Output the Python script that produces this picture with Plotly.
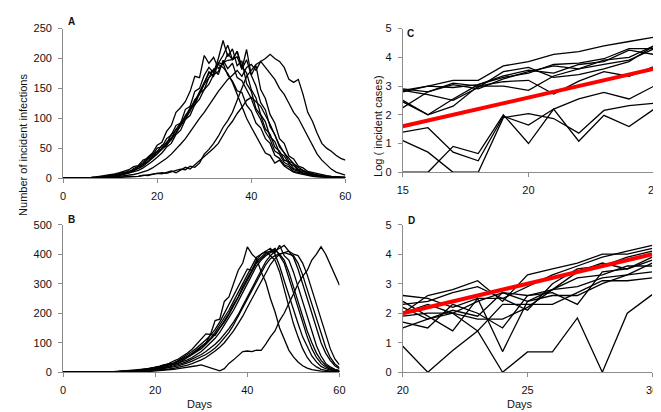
import plotly.graph_objects as go

# ---------------- DATA ----------------
days_ab = list(range(0, 61))

# Panel A: incident infections per day (10 simulated epidemics)
A1 = [0,0,0,0,1,0,1,1,2,3, 4,6,5,8,12,11,20,26,35,42, 55,60,78,88,110,118,128,145,170,168,
      205,192,202,183,192,172,162,146,143,122, 112,92,84,66,58,38,33,22,19,11, 9,7,5,4,3,2,2,1,1,0,0]
A2 = [0,0,0,0,0,1,1,2,2,3, 5,4,8,10,9,16,20,23,33,38, 50,52,66,72,88,92,115,120,145,150,
      172,185,176,200,230,203,216,188,196,158, 145,116,105,82,73,52,45,30,27,16, 13,8,7,5,4,3,2,2,1,1,0]
A3 = [0,0,0,0,1,1,1,2,3,4, 5,7,9,12,14,19,21,30,33,40, 44,55,58,73,80,93,102,118,127,143,
      158,178,170,192,205,222,198,212,186,176, 148,134,106,94,69,61,42,37,24,21, 13,11,7,6,4,3,2,2,1,1,1]
A4 = [0,0,0,0,0,0,1,1,2,2, 3,4,6,8,10,14,16,23,27,36, 41,50,54,67,76,90,98,116,122,142,
      148,168,175,193,190,208,198,212,182,198, 172,154,126,114,86,73,52,42,28,24, 15,13,8,7,5,4,3,2,2,1,1]
A5 = [0,0,0,0,0,0,0,1,1,2, 2,3,4,6,8,10,13,17,22,28, 35,42,52,58,73,80,98,105,123,132,
      148,157,173,178,193,197,198,203,182,215, 172,188,148,133,106,92,66,58,37,32, 20,17,11,9,7,5,4,3,2,2,1]
A6 = [0,0,0,0,0,1,1,1,2,2, 3,5,6,8,11,13,19,23,31,35, 45,49,60,66,82,90,105,115,131,140,
      157,168,182,173,197,183,192,168,163,147, 133,112,98,77,65,45,40,26,22,14, 11,8,6,4,3,2,2,1,1,0,0]
A7 = [0,0,0,0,0,0,1,1,1,2, 3,4,5,7,9,12,16,20,26,33, 40,48,55,64,75,88,100,112,128,145,
      160,175,180,190,185,175,160,140,120,100, 85,70,55,42,38,25,30,20,15,10, 8,6,4,3,2,2,1,1,0,0,0]
A8 = [0,0,0,0,0,0,0,0,1,1, 1,2,3,3,4,6,8,10,13,17, 22,27,33,40,48,57,66,78,90,100,
      110,122,135,145,155,165,172,180,170,185, 190,180,195,185,175,165,150,140,125,110, 100,85,70,55,40,30,22,15,10,7,5]
A9 = [0,0,0,0,0,0,0,0,0,0, 1,1,1,2,2,3,3,5,4,6, 8,7,10,12,9,14,18,15,22,28,
      35,42,50,58,72,85,95,108,118,130, 135,128,120,105,90,72,55,42,32,24, 18,13,10,7,5,4,3,2,2,1,1]
A10 = [0,0,0,0,0,0,0,0,0,0, 1,1,1,2,2,3,3,4,5,6, 7,9,8,11,13,15,14,20,18,25,
       40,48,58,70,85,96,110,130,150,170, 180,190,195,200,207,200,195,185,165,160, 165,140,110,95,75,58,50,45,38,33,30]
series_A = [A1, A2, A3, A4, A5, A6, A7, A8, A9, A10]

# Panel B
B1 = [0,0,0,0,0,0,0,1,1,1, 2,2,3,3,4,5,6,8,10,13, 16,20,25,30,38,45,55,65,78,95,
      110,130,128,175,180,240,255,300,345,370, 425,400,385,340,305,250,205,150,115,75, 52,35,22,14,9,6,4,3,2,1,1]
B2 = [0,0,0,0,0,0,0,0,1,1, 1,2,2,3,3,4,5,7,9,11, 14,17,21,25,30,36,44,52,62,72,
      85,100,115,135,160,185,210,240,270,300, 330,360,390,400,410,420,400,360,310,260, 210,165,120,85,55,35,20,12,7,4,2]
B3 = [0,0,0,0,0,0,0,0,0,1, 1,1,2,2,3,3,4,5,7,9, 11,14,17,21,26,30,35,42,50,60,
      70,85,100,115,135,160,185,210,240,270, 300,330,360,380,395,405,415,400,380,340, 290,240,190,140,100,65,40,24,14,8,4]
B4 = [0,0,0,0,0,0,0,0,1,1, 1,2,2,3,4,5,6,7,9,12, 15,18,22,28,26,30,40,48,58,68,
      80,95,110,128,150,170,195,225,250,285, 310,345,370,385,400,410,405,430,395,380, 340,290,240,185,135,90,55,30,18,10,6]
B5 = [0,0,0,0,0,0,0,1,1,1, 2,2,3,3,4,5,6,8,10,12, 15,18,22,26,32,38,45,54,64,75,
      88,100,128,125,150,175,200,230,255,290, 320,345,375,390,405,410,420,395,370,320, 270,215,165,120,80,50,30,18,10,6,3]
B6 = [0,0,0,0,0,0,0,1,1,1, 2,2,3,4,5,6,7,9,11,14, 17,21,26,24,30,40,48,58,70,82,
      95,110,125,145,170,200,230,260,290,320, 350,345,380,400,410,395,380,340,280,220, 165,120,80,50,30,18,10,6,3,2,1]
B7 = [0,0,0,0,0,0,0,0,0,0, 1,1,1,2,2,3,3,4,5,6, 8,10,12,15,18,22,26,32,38,45,
      52,60,70,82,98,115,135,160,190,220, 250,280,310,340,365,385,395,400,405,400, 395,370,330,280,230,180,130,85,50,28,15]
B8 = [0,0,0,0,0,0,0,0,0,1, 1,1,2,2,3,3,4,5,6,8, 10,12,15,18,22,26,31,37,44,52,
      60,70,82,95,110,128,148,170,195,225, 255,290,320,350,375,395,410,420,430,410, 390,350,300,250,195,145,100,65,40,22,12]
B9 = [0,0,0,0,0,0,0,0,0,0, 0,1,1,1,2,2,2,3,4,5, 6,7,9,11,13,16,20,24,29,35,
      42,50,60,72,85,100,120,140,165,190, 220,250,280,310,340,365,385,400,405,410, 400,395,370,330,280,230,180,130,80,45,25]
B10 = [0,0,0,0,0,0,0,0,0,0, 0,0,0,1,1,1,1,2,2,3, 4,5,6,8,10,12,14,17,20,22,
       25,20,15,8,5,12,30,42,55,70, 72,70,75,74,95,120,140,175,200,230, 265,300,325,345,380,400,425,400,365,330,295]
series_B = [B1, B2, B3, B4, B5, B6, B7, B8, B9, B10]

# Panel C: log(incident cases), days 15-25
days_c = [15, 16, 17, 18, 19, 20, 21, 22, 23, 24, 25]
C1 = [2.8, 3.0, 3.2, 3.2, 3.7, 3.85, 4.1, 4.2, 4.4, 4.55, 4.7]
C2 = [2.85, 3.0, 2.95, 3.05, 3.3, 3.45, 3.75, 3.8, 3.95, 4.3, 4.3]
C3 = [2.5, 2.0, 2.55, 3.05, 3.35, 3.55, 3.45, 3.75, 3.85, 4.25, 4.1]
C4 = [2.9, 2.8, 3.1, 3.0, 3.0, 2.85, 3.35, 3.6, 3.9, 4.0, 4.4]
C5 = [2.85, 2.7, 2.5, 2.95, 3.5, 3.65, 3.3, 3.4, 3.6, 3.85, 4.4]
C6 = [2.25, 2.8, 3.05, 2.9, 3.25, 3.5, 3.7, 3.6, 3.75, 3.9, 4.3]
C7 = [2.45, 2.0, 2.3, 3.0, 3.15, 3.2, 2.72, 3.17, 3.5, 3.34, 3.68]
C8 = [1.4, 1.55, 0.7, 0.4, 1.95, 1.64, 2.2, 2.55, 2.78, 2.55, 3.0]
C9 = [1.1, 0.7, 0.0, 0.0, 1.9, 2.04, 1.87, 1.36, 2.15, 2.32, 2.4]
C10 = [0.0, 0.0, 0.9, 0.65, 2.0, 1.0, 2.2, 1.08, 1.98, 1.59, 2.2]
series_C = [C1, C2, C3, C4, C5, C6, C7, C8, C9, C10]
fit_C_x = [15, 25]
fit_C_y = [1.6, 3.6]

# Panel D: log(incident cases), days 20-30
days_d = [20, 21, 22, 23, 24, 25, 26, 27, 28, 29, 30]
D1 = [2.3, 2.4, 2.7, 2.9, 2.5, 2.9, 3.3, 3.6, 3.9, 4.1, 4.3]
D2 = [2.0, 2.6, 2.8, 3.1, 2.4, 3.3, 3.5, 3.7, 4.0, 4.0, 4.2]
D3 = [2.6, 2.5, 2.2, 2.5, 2.5, 2.1, 3.0, 3.5, 3.6, 3.9, 4.1]
D4 = [2.2, 1.8, 2.1, 1.9, 2.7, 2.4, 2.8, 3.4, 3.7, 3.5, 3.8]
D5 = [1.7, 1.5, 2.3, 2.0, 1.5, 2.6, 2.7, 2.3, 3.4, 3.5, 3.9]
D6 = [1.9, 2.0, 2.0, 1.8, 1.8, 2.2, 2.8, 3.2, 3.3, 3.6, 3.6]
D7 = [1.5, 1.8, 2.0, 1.4, 2.3, 2.3, 2.3, 2.7, 3.1, 3.1, 3.2]
D8 = [2.4, 1.9, 1.4, 2.5, 0.7, 2.4, 2.6, 2.6, 3.0, 3.3, 3.7]
D9 = [0.88, 0.0, 0.74, 1.4, 0.0, 0.69, 0.69, 1.84, 0.0, 2.0, 2.63]
D10 = [2.0, 2.3, 2.0, 2.4, 2.7, 2.6, 2.8, 2.9, 3.2, 3.3, 3.4]
series_D = [D1, D2, D3, D4, D5, D6, D7, D8, D9, D10]
fit_D_x = [20, 30]
fit_D_y = [2.0, 4.0]

# ---------------- FIGURE ----------------
W, H = 661, 412
fig = go.Figure()

def add_lines(xs, series, xa, ya):
    for s in series:
        fig.add_trace(go.Scatter(x=xs, y=s, mode="lines", xaxis=xa, yaxis=ya,
                                 line=dict(color="black", width=1.3), showlegend=False,
                                 hoverinfo="skip"))

add_lines(days_ab, series_A, "x", "y")
add_lines(days_ab, series_B, "x2", "y2")
add_lines(days_c, series_C, "x3", "y3")
add_lines(days_d, series_D, "x4", "y4")
fig.add_trace(go.Scatter(x=fit_C_x, y=fit_C_y, mode="lines", xaxis="x3", yaxis="y3",
                         line=dict(color="#FF0000", width=4), showlegend=False))
fig.add_trace(go.Scatter(x=fit_D_x, y=fit_D_y, mode="lines", xaxis="x4", yaxis="y4",
                         line=dict(color="#FF0000", width=4), showlegend=False))

tickfont = dict(family="Liberation Sans, Arial, sans-serif", size=11, color="#111")

def axis(**kw):
    base = dict(showline=True, linecolor="#8c8c8c", linewidth=1, ticks="outside",
                tickcolor="#8c8c8c", ticklen=4, showgrid=False, zeroline=False,
                tickfont=tickfont, fixedrange=True, ticklabelstandoff=4)
    base.update(kw)
    return base

def px(a, b):
    return [a / W, b / W]

def py(top, bottom):
    return [1 - bottom / H, 1 - top / H]

fig.update_layout(
    width=W, height=H, margin=dict(l=0, r=0, t=0, b=0),
    paper_bgcolor="white", plot_bgcolor="white",
    xaxis=axis(domain=px(50, 337.5), range=[0, 60], tickvals=[0, 20, 40, 60], anchor="y"),
    yaxis=axis(domain=py(15, 169), range=[0, 250], tickvals=[0, 50, 100, 150, 200, 250], anchor="x"),
    xaxis2=axis(domain=px(50, 331.5), range=[0, 60], tickvals=[0, 20, 40, 60], anchor="y2"),
    yaxis2=axis(domain=py(217, 369), range=[0, 500], tickvals=[0, 100, 200, 300, 400, 500], anchor="x2"),
    xaxis3=axis(domain=px(396, 652), range=[15, 25], tickvals=[15, 20, 25], anchor="y3"),
    yaxis3=axis(domain=py(15, 163), range=[0, 5], tickvals=[0, 1, 2, 3, 4, 5], anchor="x3"),
    xaxis4=axis(domain=px(396, 650), range=[20, 30], tickvals=[20, 25, 30], anchor="y4"),
    yaxis4=axis(domain=py(217, 369), range=[0, 5], tickvals=[0, 1, 2, 3, 4, 5], anchor="x4"),
)

def note(text, x, y, size=11, bold=False, angle=0):
    fig.add_annotation(text=f"<b>{text}</b>" if bold else text, x=x / W, y=1 - y / H,
                       xref="paper", yref="paper", showarrow=False, textangle=angle,
                       font=dict(family="Liberation Sans, Arial, sans-serif", size=size, color="#111"),
                       xanchor="center", yanchor="middle")

note("A", 59, 8, size=10, bold=True)
note("B", 59, 212, size=10, bold=True)
note("C", 404, 20, size=10, bold=True)
note("D", 405, 213, size=10, bold=True)
note("Number of incident infections", 9, 135, angle=-90)
note("Log ( incident cases)", 370, 115, angle=-90)
note("Days", 189, 402)
note("Days", 515, 402)

fig.write_html("out.html")
